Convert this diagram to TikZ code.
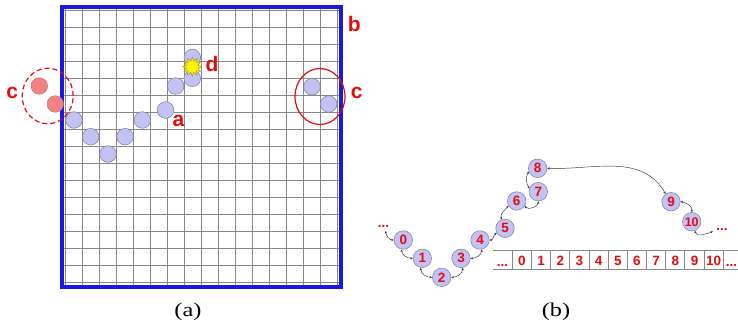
\documentclass[tikz,border=0pt]{standalone}
\usepackage{fontspec}
\setmainfont{Liberation Serif}
\newfontfamily\lblfont{Liberation Sans}
\usetikzlibrary{shapes.geometric,arrows.meta}
\definecolor{redlbl}{RGB}{228,12,12}
\definecolor{beadfill}{RGB}{194,194,245}
\definecolor{beadedge}{RGB}{125,125,150}
\definecolor{pinkfill}{RGB}{240,130,130}
\definecolor{gridgray}{RGB}{135,135,135}
\definecolor{frameblue}{RGB}{25,25,225}
\begin{document}
\begin{tikzpicture}[x=1pt,y=-1pt,
  bead/.style={circle,fill=beadfill,draw=beadedge,line width=0.5pt,minimum size=16.6pt,inner sep=0pt},
  pinkbead/.style={circle,fill=pinkfill,draw=pinkfill!80!black,line width=0.4pt,minimum size=16.6pt,inner sep=0pt},
  numbead/.style={circle,fill=beadfill,draw=beadedge,line width=0.5pt,minimum size=18.5pt,inner sep=0pt,
    text=redlbl,font=\lblfont\bfseries\fontsize{13.5}{13.5}\selectfont},
  biglbl/.style={text=redlbl,font=\lblfont\bfseries\fontsize{21}{21}\selectfont,inner sep=0pt},
  celltxt/.style={text=redlbl,font=\lblfont\bfseries\fontsize{13.5}{13.5}\selectfont,inner sep=0pt,anchor=base},
  gridline/.style={draw=gridgray,line width=0.8pt},
  link/.style={<->,>={Stealth[length=2.6pt,width=2.2pt]},line width=0.45pt,draw=black!80},
  caption/.style={font=\fontsize{19.5}{19.5}\selectfont,inner sep=0pt}]
\useasboundingbox (0,0) rectangle (738,327);
% ---------- panel (a)
\foreach \i in {0,...,16} {
  \draw[gridline] ({65.3+17*\i},7) -- ({65.3+17*\i},287);
  \draw[gridline] (62,{10+17*\i}) -- (341,{10+17*\i});
}
\draw[frameblue,line width=3.6pt] (62,7) rectangle (341,287);
\node[bead] (a1) at (74,120) {};
\node[bead] (a2) at (90.7,136.7) {};
\node[bead] (a3) at (108,154) {};
\node[bead] (a4) at (125,136.7) {};
\node[bead] (a5) at (142.3,120) {};
\node[bead] (a6) at (165.5,110) {};
\node[bead] (a7) at (175.7,86) {};
\node[bead] (a8) at (192.3,78.3) {};
\node[bead] (a9) at (192.3,57.5) {};
\node[star,star points=12,star point ratio=1.6,minimum size=19pt,inner sep=0pt,fill=yellow,draw=olive!70!gray,line width=0.4pt] (burst) at (192.3,66.7) {};
\node[bead] (r1) at (312,86.7) {};
\node[bead] (r2) at (328.7,104) {};
\node[pinkbead] (p1) at (39.3,86) {};
\node[pinkbead] (p2) at (55.3,104) {};
\draw[redlbl,line width=1.2pt,dash pattern=on 5pt off 3pt] (47.7,96) ellipse [x radius=25.5pt,y radius=27.8pt];
\draw[redlbl,line width=1.2pt] (320,96.5) ellipse [x radius=25pt,y radius=28pt];
\node[biglbl] (lb) at (354.3,24) {b};
\node[biglbl] (lc1) at (12.3,93) {c};
\node[biglbl] (lc2) at (356.7,93) {c};
\node[biglbl] (la) at (178.5,121) {a};
\node[biglbl] (ld) at (212,64) {d};
\node[caption] (capa) at (188,312) {\scalebox{1.25}[1]{(a)}};
% ---------- panel (b)
\foreach \k in {0,...,11} {
  \draw[gridline,line width=1pt] ({512.3+19.18*\k},250) -- ({512.3+19.18*\k},269);
}
\draw[gridline] (493,250) -- (738,250);
\draw[gridline] (493,269) -- (738,269);
\node[celltxt] (adl) at (502.5,266) {...};
\foreach \k in {0,...,10} {
  \node[celltxt] (ac\k) at ({512.3+19.18*(\k+0.5)},265) {\k};
}
\node[celltxt] (adr) at (731.5,266) {...};
\node[numbead] (n0) at (403.3,240) {0};
\node[numbead] (n1) at (422.3,258.3) {1};
\node[numbead] (n2) at (441.7,277.3) {2};
\node[numbead] (n3) at (461,258.3) {3};
\node[numbead] (n4) at (480,240) {4};
\node[numbead] (n5) at (505,228.3) {5};
\node[numbead] (n6) at (516.7,201) {6};
\node[numbead] (n7) at (538.3,191.7) {7};
\node[numbead] (n8) at (537.7,168.3) {8};
\node[numbead] (n9) at (671,201.7) {9};
\node[numbead,font=\lblfont\bfseries\fontsize{12.5}{12.5}\selectfont] (n10) at (691.7,221.7) {10};
\node[celltxt] (dl) at (383.5,227.5) {...};
\node[celltxt] (dr) at (722,230) {...};
\coordinate (s0) at (385.5,231);
\coordinate (e10) at (713,231.5);
\draw[link] (s0) to[out=-80,in=180] (n0.west);
\draw[link] (n0.-100) to[out=-90,in=180] (n1.west);
\draw[link] (n1.-100) to[out=-90,in=180] (n2.west);
\draw[link] (n2.east) to[out=0,in=-90] (n3.-80);
\draw[link] (n3.east) to[out=0,in=-90] (n4.-80);
\draw[link] (n4.east) to[out=0,in=-150] (n5.-150);
\draw[link] (n5.110) to[out=110,in=-130] (n6.-150);
\draw[link] (n6.-30) to[out=-60,in=-90] (n7.-90);
\draw[link] (n7.160) to[out=120,in=-120] (n8.-160);
\draw[link] (n8.east) to[out=-2,in=120] (n9.125);
\draw[link] (n9.east) to[out=-10,in=80] (n10.north);
\draw[link] (n10.-70) to[out=-80,in=200] (e10);
\node[caption] (capb) at (556,312) {\scalebox{1.25}[1]{(b)}};
\end{tikzpicture}
\end{document}
